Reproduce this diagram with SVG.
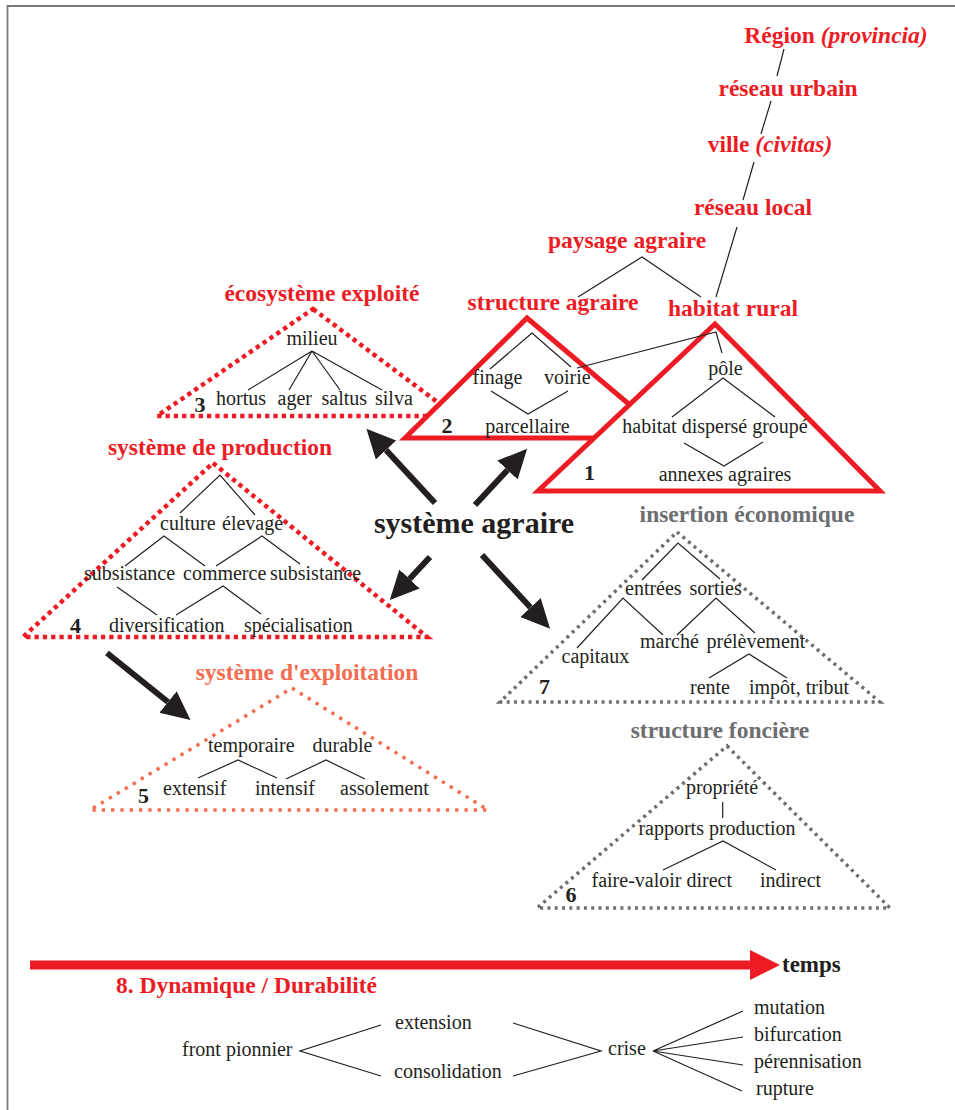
<svg xmlns="http://www.w3.org/2000/svg" width="955" height="1110" viewBox="0 0 955 1110">
<defs>
<style>
.t{font-family:"Liberation Serif","Times New Roman",serif;font-size:20px;fill:#231f20}
.tm{text-anchor:middle}
.red{font-family:"Liberation Serif","Times New Roman",serif;font-size:23.5px;font-weight:bold;fill:#ed1c24;text-anchor:middle}
.gray{font-family:"Liberation Serif","Times New Roman",serif;font-size:23.5px;font-weight:bold;fill:#6d6e70;text-anchor:middle}
.orange{font-family:"Liberation Serif","Times New Roman",serif;font-size:23.5px;font-weight:bold;fill:#f26c4f;text-anchor:middle}
.num{font-family:"Liberation Serif","Times New Roman",serif;font-size:22px;font-weight:bold;fill:#231f20;text-anchor:middle}
.ln{stroke:#231f20;stroke-width:1.2;fill:none}
.solid{fill:#fff;stroke:#ed1c24;stroke-width:5;stroke-linejoin:miter}
.dotred{fill:none;stroke:#ed1c24;stroke-width:4.5;stroke-dasharray:4.3 4}
.dotorange{fill:none;stroke:#f26c4f;stroke-width:3.5;stroke-dasharray:3.3 6}
.dotgray{fill:none;stroke:#6d6e70;stroke-width:3.5;stroke-dasharray:3 4.3}
.arr{stroke:#231f20;stroke-width:6;fill:none;marker-end:url(#ah)}
</style>
<marker id="ah" markerUnits="userSpaceOnUse" markerWidth="30" markerHeight="30" viewBox="0 -13 26 26" refX="0" refY="0" orient="auto">
<path d="M0,-12 L25,0 L0,12 Z" fill="#231f20"/>
</marker>
</defs>
<rect width="955" height="1110" fill="#fff"/>
<g id="frame"><path d="M7.5,1110 V6 H955" fill="none" stroke="#7a7a7a" stroke-width="1.8"/></g>

<g id="region"><text class="red" x="836" y="43">Région <tspan font-style="italic">(provincia)</tspan></text></g>
<g id="reseau-urbain"><text class="red" x="788" y="96">réseau urbain</text></g>
<g id="ville"><text class="red" x="770" y="152">ville <tspan font-style="italic">(civitas)</tspan></text></g>
<g id="reseau-local"><text class="red" x="753" y="215">réseau local</text></g>
<g id="paysage-agraire"><text class="red" x="627" y="248">paysage agraire</text></g>

<g id="m3-ecosysteme">
<text class="red" x="322" y="300.5">écosystème exploité</text>
<polygon class="dotred" points="313,309 456,416 157,416"/>
<text class="t tm" x="312" y="345">milieu</text>
<path class="ln" d="M312,351 L248,390 M312,351 L289,390 M312,351 L340,390 M312,351 L382,390"/>
<text class="t" x="216" y="405">hortus</text>
<text class="t" x="277.5" y="405">ager</text>
<text class="t" x="321.5" y="405">saltus</text>
<text class="t" x="375" y="405">silva</text>
<text class="num" x="200" y="412">3</text>
</g>

<g id="m2-structure-agraire">
<text class="red" x="553" y="310">structure agraire</text>
<polygon class="solid" points="527,318 669,438 405,438"/>
<path class="ln" d="M490,369 L532,333 L571,367 M491,391 L528,414 L568,391"/>
<text class="t" x="472.5" y="384">finage</text>
<text class="t" x="544" y="384">voirie</text>
<text class="t tm" x="527.5" y="433">parcellaire</text>
<text class="num" x="447" y="433">2</text>
</g>

<g id="m1-habitat-rural">
<text class="red" x="733" y="315.5">habitat rural</text>
<polygon class="solid" points="715,324 880,491 538,491"/>
<text class="t tm" x="725.5" y="375">pôle</text>
<path class="ln" d="M672,417 L723,378 L775,417 M684,443 L724,466 L763,442"/>
<text class="t tm" x="715" y="433">habitat dispersé groupé</text>
<text class="t tm" x="725" y="481">annexes agraires</text>
<text class="num" x="589.5" y="480">1</text>
</g>

<g id="m4-systeme-production">
<text class="red" x="220" y="455">système de production</text>
<polygon class="dotred" points="213,463 427,637 23,637"/>
<path class="ln" d="M180,513 L220,475 L255,515 M125,566 L164,536 L205,566 M216,566 L262,536 L300,564 M117,587 L157,615 M176,615 L223,586 L261,614"/>
<text class="t" x="160" y="530">culture</text>
<text class="t" x="222" y="530">élevage</text>
<text class="t" x="84" y="580">subsistance</text>
<text class="t" x="183" y="580">commerce</text>
<text class="t" x="270" y="580">subsistance</text>
<text class="t" x="109" y="632">diversification</text>
<text class="t" x="244" y="632">spécialisation</text>
<text class="num" x="75.5" y="633">4</text>
</g>

<g id="systeme-agraire"><text x="474" y="533" font-family="Liberation Serif, Times New Roman, serif" font-size="30" font-weight="bold" fill="#231f20" text-anchor="middle">système agraire</text></g>

<g id="m7-insertion">
<text class="gray" x="747" y="521.5">insertion économique</text>
<polygon class="dotgray" points="677,532 880,702 500,702"/>
<path class="ln" d="M642,580 L678,543 L720,579 M577,648 L623,598 L663,635 M677,635 L716,598 L755,633 M709,678 L749,654 L787,678"/>
<text class="t" x="625" y="595">entrées</text>
<text class="t" x="689.5" y="595">sorties</text>
<text class="t" x="640" y="648">marché</text>
<text class="t" x="706.5" y="648">prélèvement</text>
<text class="t" x="561.5" y="663">capitaux</text>
<text class="t" x="690" y="694">rente</text>
<text class="t" x="749" y="694">impôt, tribut</text>
<text class="num" x="544.5" y="694">7</text>
</g>

<g id="m5-exploitation">
<text class="orange" x="307" y="680">système d'exploitation</text>
<polygon class="dotorange" points="292,688 488,810 90,810"/>
<path class="ln" d="M198,778 L238,760 L277,778 M286,779 L326,760 L365,779"/>
<text class="t" x="208" y="752">temporaire</text>
<text class="t" x="312.5" y="752">durable</text>
<text class="t" x="163" y="795">extensif</text>
<text class="t" x="255" y="795">intensif</text>
<text class="t" x="340" y="795">assolement</text>
<text class="num" x="143.5" y="803">5</text>
</g>

<g id="m6-fonciere">
<text class="gray" x="720" y="738">structure foncière</text>
<polygon class="dotgray" points="727,746 890,908 537,908"/>
<path class="ln" d="M722.7,802 V818 M663,870 L723,841 L776,870"/>
<text class="t tm" x="722" y="794">propriété</text>
<text class="t tm" x="717" y="835">rapports production</text>
<text class="t" x="591.5" y="886.5">faire-valoir direct</text>
<text class="t" x="760" y="886.5">indirect</text>
<text class="num" x="571" y="901.5">6</text>
</g>

<g id="m8-dynamique">
<line x1="30" y1="965" x2="752" y2="965" stroke="#ed1c24" stroke-width="9"/>
<polygon points="750,950 780,965 750,980" fill="#ed1c24"/>
<text x="782" y="972" font-family="Liberation Serif, Times New Roman, serif" font-size="23" font-weight="bold" fill="#231f20">temps</text>
<text class="red" x="246.5" y="993">8. Dynamique / Durabilité</text>
</g>

<g id="dyn-tree">
<text class="t" x="182" y="1056">front pionnier</text>
<text class="t" x="395" y="1029">extension</text>
<text class="t" x="394" y="1078">consolidation</text>
<text class="t" x="608" y="1055">crise</text>
<text class="t" x="754" y="1014">mutation</text>
<text class="t" x="754" y="1041">bifurcation</text>
<text class="t" x="754" y="1068">pérennisation</text>
<text class="t" x="756" y="1095">rupture</text>
</g>

<g id="connectors">
<path class="ln" d="M784,49 L777,76 M771,101 L761,134 M754,162 L743,200 M737,227 L716,297"/>
<path class="ln" d="M578,297 L642,257 L701,297"/>
<path class="ln" d="M577,368 L716,332 L722,353"/>
<path class="ln" d="M381,1025 L300,1051 L381,1076 M513,1023 L601,1051 L513,1076 M743,1011 L653,1051 L743,1037 M653,1051 L743,1065 M653,1051 L742,1091"/>
<line class="arr" x1="435" y1="503" x2="386" y2="450"/>
<line class="arr" x1="475" y1="505" x2="507.5" y2="470"/>
<line class="arr" x1="430" y1="557" x2="409.5" y2="579"/>
<line class="arr" x1="482" y1="555" x2="530.5" y2="607.5"/>
<line class="arr" x1="107" y1="653" x2="168" y2="702"/>
</g>
</svg>
